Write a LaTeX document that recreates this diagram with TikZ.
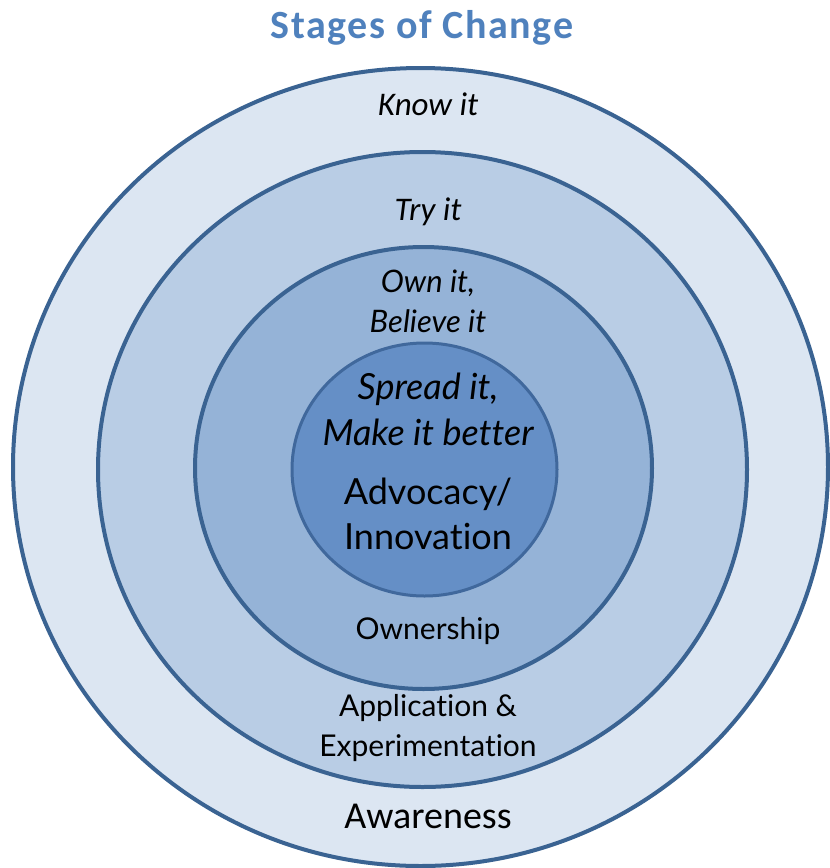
\documentclass[tikz,border=0pt]{standalone}
\usepackage{fontspec}
\setmainfont{Carlito}
\newfontfamily\latof[Ligatures=NoCommon]{Lato}
\definecolor{ringline}{HTML}{3A6392}
\definecolor{innerline}{HTML}{40689C}
\definecolor{fillA}{HTML}{DCE6F2}
\definecolor{fillB}{HTML}{B9CDE5}
\definecolor{fillC}{HTML}{95B3D7}
\definecolor{fillD}{HTML}{658FC6}
\definecolor{titleblue}{HTML}{4F81BD}
\newcommand{\fs}[1]{\fontsize{#1}{#1}\selectfont}
\tikzset{
  ring/.style={draw=ringline, line width=4pt},
  innerring/.style={draw=innerline, line width=3pt},
  lbl/.style={inner sep=0pt, align=center, text=black},
}
\begin{document}
\begin{tikzpicture}[x=1pt,y=-1pt]
\useasboundingbox (0,0) rectangle (830,868);
\fill[white] (0,0) rectangle (830,868);
\draw[ring, fill=fillA] (420.5,467) ellipse [x radius=407.5pt, y radius=399pt];
\draw[ring, fill=fillB] (422.5,469.5) ellipse [x radius=324.5pt, y radius=317.5pt];
\draw[ring, fill=fillC] (423.5,468) ellipse [x radius=228.5pt, y radius=221pt];
\draw[innerring, fill=fillD] (424.5,469.5) ellipse [x radius=132.5pt, y radius=126.5pt];

\node[lbl, text=titleblue, font=\fs{40}\bfseries\addfontfeature{LetterSpace=4}] (title) at (422,28) {Stages of Change};
\node[lbl, font=\fs{33}\itshape] (know) at (428,104) {Know it};
\node[lbl, font=\fs{33}\itshape] (try) at (428,212) {Try it};
\node[lbl, font=\latof\fontsize{31}{40}\selectfont\itshape] (own) at (428,301) {Own it,\\Believe it};
\node[lbl, font=\latof\fontsize{36}{46}\selectfont\itshape] (spread) at (428,409) {Spread it,\\Make it better};
\node[lbl, font=\latof\fontsize{36}{45}\selectfont] (advoc) at (428,514) {Advocacy/\\Innovation};
\node[lbl, font=\latof\fontsize{30}{40}\selectfont] (ownership) at (428,631) {Ownership};
\node[lbl, font=\latof\fontsize{30}{40}\selectfont] (appl) at (428,728) {Application \&\\Experimentation};
\node[lbl, font=\fs{38}] (aware) at (428,816) {Awareness};
\end{tikzpicture}
\end{document}
